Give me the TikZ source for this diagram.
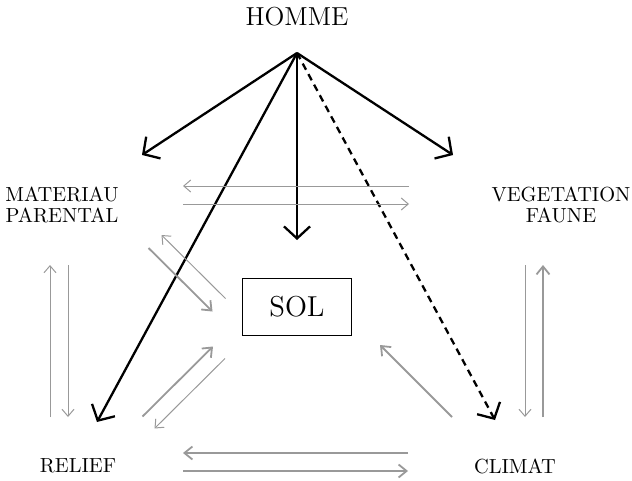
\documentclass[tikz,border=0pt]{standalone}
\usetikzlibrary{arrows.meta}
\begin{document}
\begin{tikzpicture}[x=0.5pt, y=-0.5pt,
        noir/.style={line width=1.15pt, -{Straight Barb[length=6pt,width=13pt]}},
        fin/.style={draw=black!40, line width=0.5pt, -{Straight Barb[length=3.5pt,width=6pt]}},
        epais/.style={draw=black!40, line width=0.9pt, -{Straight Barb[length=4pt,width=6.5pt]}},
        facteur/.style={align=center, font=\fontsize{10.2}{10.5}\selectfont}]
        \useasboundingbox (0,0) rectangle (632,481);
        \node[font=\fontsize{13}{15}\selectfont] (homme) at (297,17) {HOMME};
        \node[facteur] (mat) at (62,205) {MATERIAU\\PARENTAL};
        \node[facteur] (veg) at (561,205) {VEGETATION\\FAUNE};
        \node[draw, font=\Large, minimum width=54.5pt, minimum height=28.5pt] (sol) at (297,307) {SOL};
        \node[facteur] (rel) at (78,466) {RELIEF};
        \node[facteur] (cli) at (515,466) {CLIMAT};
        % actions de l'homme
        \coordinate (sommet) at (297,53);
        \coordinate (vmat) at (142,155);
        \coordinate (vveg) at (453,155);
        \coordinate (vsol) at (297,240);
        \coordinate (vrel) at (97,422);
        \coordinate (vcli) at (495,420);
        \draw[noir] (sommet) -- (vmat);
        \draw[noir] (sommet) -- (vveg);
        \draw[noir] (sommet) -- (vsol);
        \draw[noir] (sommet) -- (vrel);
        \draw[noir, dash pattern=on 3.5pt off 2.5pt] (sommet) -- (vcli);
        % materiau -- vegetation
        \coordinate (mv1) at (183,195);
        \coordinate (mv2) at (409,195);
        \draw[fin] ([yshift=4.5pt]mv2) -- ([yshift=4.5pt]mv1);
        \draw[fin] ([yshift=-4.5pt]mv1) -- ([yshift=-4.5pt]mv2);
        % relief -- climat
        \coordinate (rc1) at (183,462);
        \coordinate (rc2) at (408,462);
        \draw[epais] ([yshift=4.5pt]rc2) -- ([yshift=4.5pt]rc1);
        \draw[epais] ([yshift=-4.5pt]rc1) -- ([yshift=-4.5pt]rc2);
        % materiau -- relief
        \coordinate (mr1) at (59,265);
        \coordinate (mr2) at (59,417);
        \draw[fin] ([xshift=-4.5pt]mr2) -- ([xshift=-4.5pt]mr1);
        \draw[fin] ([xshift=4.5pt]mr1) -- ([xshift=4.5pt]mr2);
        % vegetation -- climat
        \coordinate (vc1) at (534,265);
        \coordinate (vc2) at (534,417);
        \draw[fin] ([xshift=-4.5pt]vc1) -- ([xshift=-4.5pt]vc2);
        \draw[epais] ([xshift=4.5pt]vc2) -- ([xshift=4.5pt]vc1);
        % vers le sol
        \coordinate (ms1) at (155,241.5);
        \coordinate (ms2) at (219,305);
        \draw[fin] ([shift={(3.25pt,3.25pt)}]ms2) -- ([shift={(3.25pt,3.25pt)}]ms1);
        \draw[epais] ([shift={(-3.25pt,-3.25pt)}]ms1) -- ([shift={(-3.25pt,-3.25pt)}]ms2);
        \coordinate (rs1) at (148.5,422.5);
        \coordinate (rs2) at (219,352.5);
        \draw[epais] ([shift={(-3pt,3pt)}]rs1) -- ([shift={(-3pt,3pt)}]rs2);
        \draw[fin] ([shift={(3pt,-3pt)}]rs2) -- ([shift={(3pt,-3pt)}]rs1);
        \coordinate (cs1) at (452,417);
        \coordinate (cs2) at (380,345);
        \draw[epais] (cs1) -- (cs2);
    \end{tikzpicture}
\end{document}
